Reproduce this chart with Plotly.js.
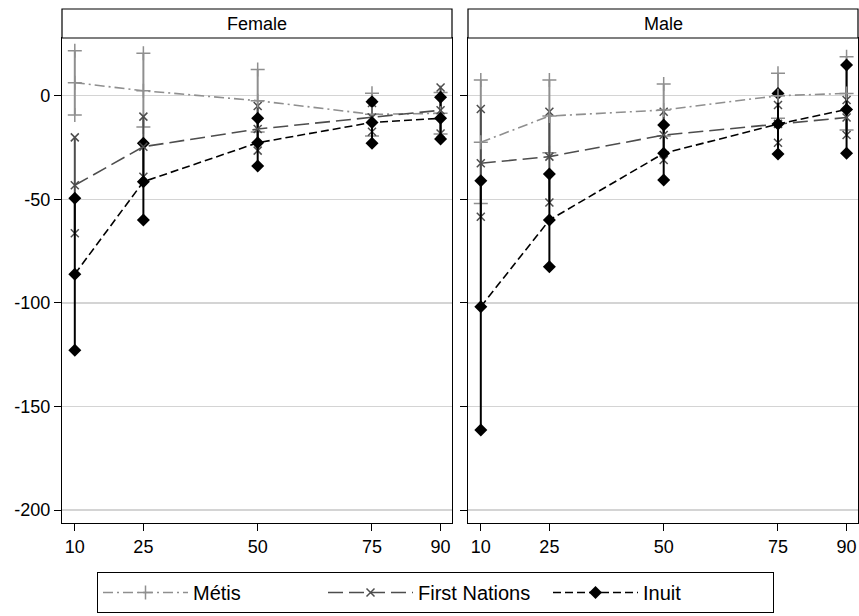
<!DOCTYPE html>
<html>
<head>
<meta charset="utf-8">
<script src="https://cdn.plot.ly/plotly-3.0.1.min.js"></script>
<style>html,body{margin:0;padding:0;background:#fff;}#chart{width:859px;height:616px;}</style>
</head>
<body>
<div id="chart"></div>
<script>
// Percentiles (x categories)
const percentiles = [10, 25, 50, 75, 90];
const panels = ["Female", "Male"];
const seriesNames = ["Métis", "First Nations", "Inuit"];

// Female
const metisF_est = [6.3, 2.4, -2.4, -9.0, -8.5];
const metisF_lo  = [-9.3, -15.1, -17.5, -19.5, -18.5];
const metisF_hi  = [21.7, 20.5, 12.7, 1.2, 1.5];
const fnF_est    = [-43.2, -24.6, -16.1, -10.5, -7.0];
const fnF_lo     = [-66.4, -39.1, -26.5, -17.4, -18.2];
const fnF_hi     = [-20.1, -10.1, -5.0, -3.5, 4.0];
const inF_est    = [-86.1, -41.5, -22.7, -12.9, -10.9];
const inF_lo     = [-122.8, -60.0, -33.9, -23.0, -20.9];
const inF_hi     = [-49.5, -23.0, -10.9, -2.9, -0.8];

// Male
const metisM_est = [-22.5, -9.8, -6.9, 0.0, 1.1];
const metisM_lo  = [-52.0, -27.5, -19.4, -10.9, -16.6];
const metisM_hi  = [7.6, 7.6, 5.6, 10.8, 18.8];
const fnM_est    = [-32.6, -29.4, -19.0, -13.6, -10.5];
const fnM_lo     = [-58.4, -51.5, -31.0, -22.7, -19.0];
const fnM_hi     = [-6.4, -7.7, -7.7, -4.5, -2.1];
const inM_est    = [-101.8, -60.0, -27.8, -13.7, -6.6];
const inM_lo     = [-161.3, -82.5, -40.7, -28.1, -27.8];
const inM_hi     = [-41.0, -37.8, -14.1, 1.1, 14.8];

const yTicks = [0, -50, -100, -150, -200];

const styles = [
  {color: "#8f8f8f", dash: "10px,4px,2px,4px", symbol: "cross-thin-open", size: 10},
  {color: "#4d4d4d", dash: "15px,6px", symbol: "x-thin-open", size: 8},
  {color: "#000000", dash: "8px,4px", symbol: "diamond", size: 10}
];

const data = {
  Female: [[metisF_est, metisF_lo, metisF_hi], [fnF_est, fnF_lo, fnF_hi], [inF_est, inF_lo, inF_hi]],
  Male:   [[metisM_est, metisM_lo, metisM_hi], [fnM_est, fnM_lo, fnM_hi], [inM_est, inM_lo, inM_hi]]
};

function ciTrace(lo, hi, st, xa, ya) {
  const x = [], y = [];
  percentiles.forEach((p, i) => { x.push(p, p, null); y.push(lo[i], hi[i], null); });
  const isOpen = st.symbol.indexOf("open") >= 0;
  return {
    x: x, y: y, xaxis: xa, yaxis: ya, mode: "lines+markers", showlegend: false, hoverinfo: "skip",
    line: {color: st.color, width: 2},
    marker: {symbol: st.symbol, size: st.size, color: st.color, line: {color: st.color, width: isOpen ? 1.5 : 0}},
    connectgaps: false
  };
}
function estTrace(est, st, name, xa, ya, showleg) {
  const isOpen = st.symbol.indexOf("open") >= 0;
  return {
    x: percentiles, y: est, xaxis: xa, yaxis: ya, mode: "lines+markers", name: name, showlegend: showleg,
    line: {color: st.color, width: 1.6, dash: st.dash},
    marker: {symbol: st.symbol, size: st.size, color: st.color, line: {color: st.color, width: isOpen ? 1.5 : 0}}
  };
}

const traces = [];
panels.forEach((pn, pi) => {
  const xa = pi === 0 ? "x" : "x2", ya = pi === 0 ? "y" : "y2";
  data[pn].forEach((s, si) => traces.push(ciTrace(s[1], s[2], styles[si], xa, ya)));
});
panels.forEach((pn, pi) => {
  const xa = pi === 0 ? "x" : "x2", ya = pi === 0 ? "y" : "y2";
  data[pn].forEach((s, si) => traces.push(estTrace(s[0], styles[si], seriesNames[si], xa, ya, pi === 0)));
});

const font = {family: "Liberation Sans, Arial, sans-serif", size: 18, color: "#000"};
const xaxisBase = {
  range: [7.2, 92.5], tickmode: "array", tickvals: percentiles, ticktext: percentiles.map(String),
  ticks: "outside", ticklen: 7, tickcolor: "#000", tickwidth: 1, showgrid: false, zeroline: false,
  showline: true, mirror: true, linecolor: "#000", linewidth: 1.2, tickfont: font, fixedrange: true
};
const yaxisBase = {
  range: [-206.2, 27.85], tickmode: "array", tickvals: yTicks, ticktext: yTicks.map(String),
  ticks: "outside", ticklen: 7, tickcolor: "#000", tickwidth: 1, showgrid: true, gridcolor: "#d4d4d4", gridwidth: 1.3,
  zeroline: false, showline: true, mirror: true, linecolor: "#000", linewidth: 1.2, tickfont: font, fixedrange: true
};

const stripTop = 1 + 29 / 485;
const shapes = [], annotations = [];
panels.forEach((pn, pi) => {
  const xr = pi === 0 ? "x domain" : "x2 domain";
  shapes.push({type: "rect", xref: xr, yref: "paper", x0: 0, x1: 1, y0: 1, y1: stripTop,
    line: {color: "#000", width: 1.2}, fillcolor: "#fff", layer: "above"});
  annotations.push({xref: xr, yref: "paper", x: 0.5, y: (1 + stripTop) / 2, text: pn, showarrow: false,
    font: font, xanchor: "center", yanchor: "middle"});
});

const layout = {
  width: 859, height: 616,
  margin: {l: 62, r: 1, t: 38, b: 93},
  paper_bgcolor: "#fff", plot_bgcolor: "#fff",
  font: font,
  xaxis: Object.assign({}, xaxisBase, {domain: [0, 390 / 796], anchor: "y"}),
  xaxis2: Object.assign({}, xaxisBase, {domain: [406 / 796, 1], anchor: "y2"}),
  yaxis: Object.assign({}, yaxisBase, {anchor: "x"}),
  yaxis2: Object.assign({}, yaxisBase, {anchor: "x2", showticklabels: false}),
  shapes: shapes, annotations: annotations,
  legend: {orientation: "h", xref: "container", yref: "container", x: 97 / 859, xanchor: "left",
    y: 1 - 572 / 616, yanchor: "top",
    bordercolor: "#000", borderwidth: 1, bgcolor: "#fff", font: {family: font.family, size: 20, color: "#000"},
    itemwidth: 85, entrywidth: 125, entrywidthmode: "pixels", tracegroupgap: 0},
  showlegend: true
};

Plotly.newPlot("chart", traces, layout, {displayModeBar: false, staticPlot: true});
</script>
</body>
</html>
